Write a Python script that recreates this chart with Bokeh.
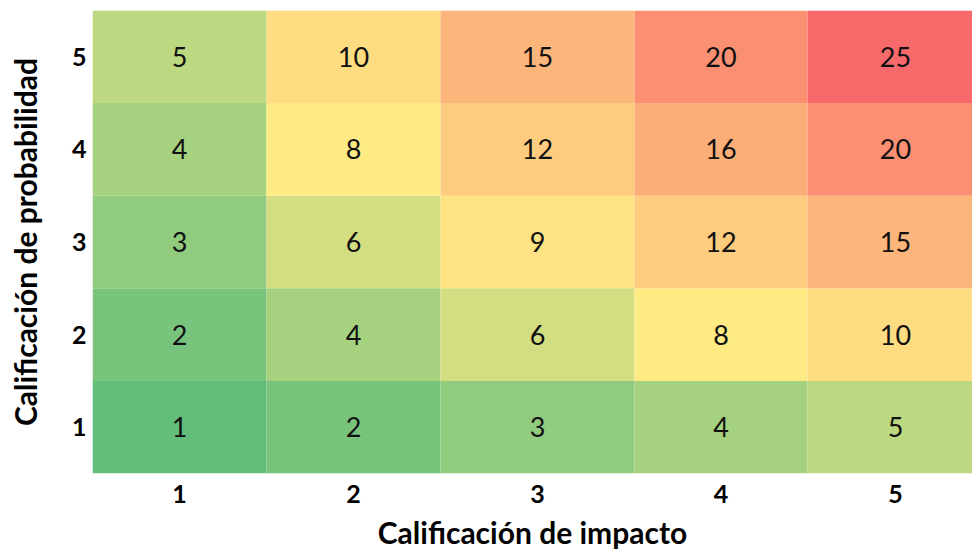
from bokeh.plotting import figure
from bokeh.models import ColumnDataSource, Range1d, FixedTicker
from bokeh.core.properties import value
from bokeh.embed import file_html
from bokeh.resources import INLINE

# Data
impact = [1, 2, 3, 4, 5]
probability = [1, 2, 3, 4, 5]
x_title = "Calificación de impacto"
y_title = "Calificación de probabilidad"

# Layout (column pixel widths as in the reference)
col_widths = [174, 174, 194, 173, 176]
edges = [0]
for w in col_widths:
    edges.append(edges[-1] + w)
centers = [(edges[i] + edges[i + 1]) / 2 for i in range(5)]

green = (0x63, 0xBE, 0x7B)
yellow = (0xFF, 0xEB, 0x84)
red = (0xF8, 0x69, 0x6B)

vals = [a * b for b in probability for a in impact]
svals = sorted(vals)
vmin, vmax = svals[0], svals[-1]
vmid = svals[len(svals) // 2]


def mix(c1, c2, t):
    return "#%02x%02x%02x" % tuple(int(round(c1[k] + (c2[k] - c1[k]) * t)) for k in range(3))


def color(v):
    if v <= vmid:
        return mix(green, yellow, (v - vmin) / (vmid - vmin))
    return mix(yellow, red, (v - vmid) / (vmax - vmid))


left, right, bottom, top, xc, yc, lab, cols = [], [], [], [], [], [], [], []
for pv in probability:
    for iv in impact:
        i = impact.index(iv)
        left.append(edges[i])
        right.append(edges[i + 1])
        bottom.append(pv - 0.5)
        top.append(pv + 0.5)
        xc.append(centers[i])
        yc.append(pv)
        v = iv * pv
        lab.append(str(v))
        cols.append(color(v))

src = ColumnDataSource(dict(left=left, right=right, bottom=bottom, top=top,
                            xc=xc, yc=yc, lab=lab, cols=cols))

W, H = 972, 552
BL, BT, BB = 92, 10, 79
p = figure(width=W, height=H, output_backend="svg", toolbar_location=None,
           x_range=Range1d(0, W - BL), y_range=Range1d(0.5, 5.5),
           min_border_left=BL, min_border_right=0, min_border_top=BT, min_border_bottom=BB)
p.outline_line_color = None
p.grid.visible = False
p.background_fill_color = "white"

p.quad(left="left", right="right", bottom="bottom", top="top", source=src,
       fill_color="cols", line_color=None)
p.text(x="xc", y="yc", text="lab", source=src, text_align="center",
       text_baseline="middle", text_font=value("Lato"), text_font_size="27px",
       text_color="#111111")

font = "Lato"
p.xaxis.ticker = FixedTicker(ticks=centers)
p.xaxis.major_label_overrides = {c: str(v) for c, v in zip(centers, impact)}
p.yaxis.ticker = FixedTicker(ticks=probability)
for ax in (p.xaxis, p.yaxis):
    ax.axis_line_color = None
    ax.major_tick_line_color = None
    ax.minor_tick_line_color = None
    ax.major_label_text_font = font
    ax.major_label_text_font_style = "bold"
    ax.major_label_text_font_size = "25px"
    ax.major_label_text_color = "#000000"
    ax.axis_label_text_font = font
    ax.axis_label_text_font_style = "bold"
    ax.axis_label_text_font_size = "30px"
    ax.axis_label_text_color = "#000000"
p.xaxis.axis_label = x_title
p.yaxis.axis_label = y_title
p.xaxis.major_label_standoff = 5
p.yaxis.major_label_standoff = 0
p.xaxis.axis_label_standoff = 8
p.yaxis.axis_label_standoff = 26

open("out.html", "w").write(file_html(p, INLINE))
